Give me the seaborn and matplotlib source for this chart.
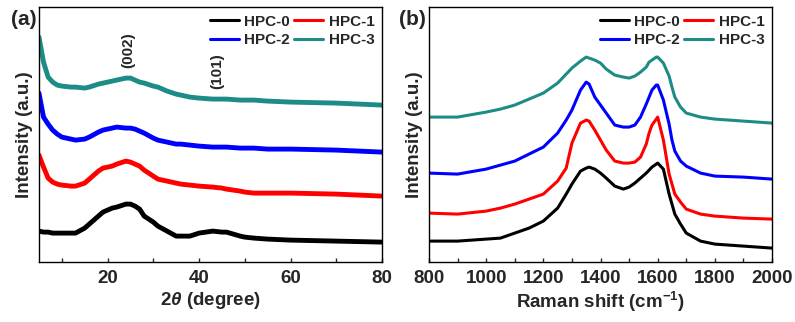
import pandas as pd
import seaborn as sns
import matplotlib.pyplot as plt
from matplotlib.ticker import MultipleLocator

# XRD (a): 2theta and intensity (arbitrary units)
xrd_2theta = [5, 6, 7, 8, 9, 10, 12, 13, 15, 16, 18, 19, 21, 22, 24, 25, 26, 27, 28,
              30, 31, 33, 35, 36, 38, 40, 43, 45, 46, 49, 50, 52, 55, 60, 70, 80]
xrd_hpc0 = [31, 30, 30, 29, 29, 29, 29, 29, 34, 38, 46, 50, 54, 55, 58, 58, 56, 53, 46,
            40, 36, 31, 26, 26, 26, 29, 31, 30, 30, 26, 25, 24, 23, 22, 21, 20]
xrd_hpc1 = [107, 95, 84, 80, 78, 77, 76, 76, 79, 83, 91, 94, 96, 98, 101, 100, 98, 96, 92,
            86, 83, 81, 79, 78, 77, 76, 75, 74, 73, 71, 70, 69, 69, 69, 68, 66]
xrd_hpc2 = [169, 145, 138, 132, 128, 125, 123, 122, 123, 125, 130, 132, 134, 135, 134, 134, 133, 131, 129,
            124, 122, 120, 118, 118, 117, 116, 115, 115, 115, 114, 114, 114, 113, 113, 112, 110]
xrd_hpc3 = [225, 200, 185, 180, 177, 176, 175, 175, 174, 175, 178, 179, 181, 182, 184, 184, 182, 180, 179,
            176, 175, 171, 168, 167, 165, 164, 163, 163, 163, 162, 162, 162, 161, 160, 159, 157]

# Raman (b)
raman_shift = [800, 900, 1000, 1050, 1100, 1150, 1200, 1250, 1280, 1300, 1330, 1350, 1360, 1380,
               1400, 1420, 1450, 1480, 1500, 1520, 1540, 1560, 1570, 1580, 1595, 1600, 1620,
               1640, 1650, 1660, 1680, 1700, 1750, 1800, 1900, 2000]
raman_hpc0 = [21, 21, 23, 24, 29, 34, 41, 54, 68, 78, 91, 94, 95, 93, 89, 84, 76, 73, 75, 79,
              84, 89, 92, 95, 98, 99, 93, 68, 58, 48, 38, 29, 21, 18, 16, 14]
raman_hpc1 = [49, 48, 51, 54, 58, 63, 68, 81, 94, 119, 139, 142, 141, 132, 122, 112, 101, 99, 99,
              100, 105, 118, 129, 137, 143, 145, 122, 88, 78, 68, 60, 53, 48, 46, 44, 43]
raman_hpc2 = [89, 88, 93, 97, 101, 108, 115, 129, 142, 152, 172, 180, 178, 165, 157, 149, 137, 135,
              135, 137, 145, 158, 165, 172, 177, 177, 162, 138, 122, 111, 101, 96, 89, 86, 85, 83]
raman_hpc3 = [145, 145, 150, 153, 157, 163, 169, 179, 188, 194, 201, 205, 204, 202, 199, 193, 187,
              185, 184, 186, 190, 195, 200, 202, 205, 205, 199, 186, 175, 165, 155, 149, 145, 143, 141, 139]

labels = ['HPC-0', 'HPC-1', 'HPC-2', 'HPC-3']
colores = ['black', '#ff0000', '#0000ff', '#1d8c87']

sns.set_style('ticks')
plt.rcParams['font.family'] = ['Liberation Sans', 'DejaVu Sans']
plt.rcParams['font.weight'] = 'bold'
plt.rcParams['mathtext.fontset'] = 'custom'
plt.rcParams['mathtext.rm'] = 'Liberation Sans:bold'
plt.rcParams['mathtext.bf'] = 'Liberation Sans:bold'
plt.rcParams['mathtext.it'] = 'Liberation Sans:bold:italic'

fig = plt.figure(figsize=(7.95, 3.22), dpi=100)
ax1 = fig.add_axes([0.049, 0.186, 0.4315, 0.792])
ax2 = fig.add_axes([0.5396, 0.186, 0.4315, 0.792])

xrd = [xrd_hpc0, xrd_hpc1, xrd_hpc2, xrd_hpc3]
raman = [raman_hpc0, raman_hpc1, raman_hpc2, raman_hpc3]

for lab, col, y in zip(labels, colores, xrd):
    df = pd.DataFrame({'x': xrd_2theta, 'y': y})
    sns.lineplot(data=df, x='x', y='y', color=col, linewidth=3.5, label=lab, ax=ax1)

for lab, col, y in zip(labels, colores, raman):
    df = pd.DataFrame({'x': raman_shift, 'y': y})
    sns.lineplot(data=df, x='x', y='y', color=col, linewidth=2.2, label=lab, ax=ax2)

ax1.set_xlim(5, 80)
ax2.set_xlim(800, 2000)
ax1.xaxis.set_major_locator(MultipleLocator(20))
ax1.xaxis.set_minor_locator(MultipleLocator(10))
ax2.xaxis.set_major_locator(MultipleLocator(200))
ax2.xaxis.set_minor_locator(MultipleLocator(100))

ax1.set_xlabel('2$\\mathit{\\theta}$ (degree)', fontsize=13.5, fontweight='bold', labelpad=2)
ax2.set_xlabel('Raman shift (cm$^{\\mathbf{-1}}$)', fontsize=13.5, fontweight='bold', labelpad=2)

for ax in (ax1, ax2):
    ax.set_ylim(0, 255)
    ax.set_yticks([])
    ax.set_ylabel('Intensity (a.u.)', fontsize=13.5, fontweight='bold', labelpad=4)
    ax.tick_params(axis='x', which='both', direction='in', length=3, width=1, labelsize=13.5, pad=6)
    for lbl in ax.get_xticklabels():
        lbl.set_fontweight('bold')
    for s in ax.spines.values():
        s.set_visible(True)
        s.set_linewidth(1.0)
        s.set_color('black')
    # orden por filas: HPC-0 HPC-1 / HPC-2 HPC-3
    h, l = ax.get_legend_handles_labels()
    orden = [0, 2, 1, 3]
    leg = ax.legend([h[i] for i in orden], [l[i] for i in orden], ncol=2, frameon=False,
                    loc='upper right', handlelength=1.9, handletextpad=0.35, columnspacing=0.3,
                    labelspacing=0.3, borderaxespad=0.1, prop={'weight': 'bold', 'size': 11})
    for ln in leg.get_lines():
        ln.set_linewidth(2.2)

ax1.text(24.6, 212, '(002)', rotation=90, ha='center', va='center', fontsize=11, fontweight='bold')
ax1.text(44, 191, '(101)', rotation=90, ha='center', va='center', fontsize=11, fontweight='bold')

fig.text(0.014, 0.94, '(a)', fontsize=15, fontweight='bold', va='center')
fig.text(0.502, 0.94, '(b)', fontsize=15, fontweight='bold', va='center')

plt.savefig('out.png', dpi=100)
